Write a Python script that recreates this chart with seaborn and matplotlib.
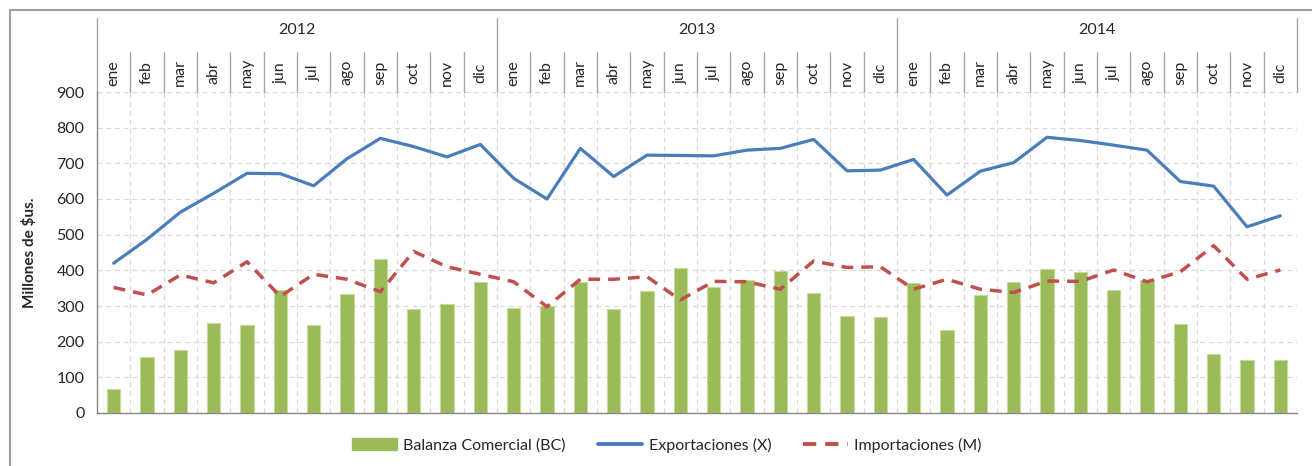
import numpy as np
import pandas as pd
import matplotlib
matplotlib.use("Agg")
import matplotlib.pyplot as plt
import seaborn as sns
from matplotlib.lines import Line2D
from matplotlib.patches import Patch

# Data (millones de $us.)
years = ["2012", "2013", "2014"]
months = ["ene", "feb", "mar", "abr", "may", "jun", "jul", "ago", "sep", "oct", "nov", "dic"]

balanza = [68, 158, 177, 252, 247, 344, 247, 334, 431, 292, 306, 367,
           294, 300, 367, 291, 341, 406, 352, 373, 399, 337, 271, 270,
           364, 232, 331, 366, 403, 394, 345, 373, 250, 165, 148, 150]
exportaciones = [420, 487, 563, 616, 672, 671, 637, 713, 770, 747, 718, 753,
                 658, 600, 742, 663, 723, 722, 721, 737, 742, 767, 679, 681,
                 711, 611, 678, 702, 773, 764, 751, 737, 649, 636, 522, 553]
importaciones = [352, 331, 387, 365, 424, 327, 389, 375, 340, 453, 410, 389,
                 368, 298, 375, 375, 382, 317, 369, 368, 347, 426, 408, 410,
                 347, 375, 347, 338, 370, 369, 401, 368, 396, 469, 375, 401]

green = "#9BBB59"
blue = "#4A7EBB"
red = "#C0504D"
grid_c = "#D9D9D9"
axis_c = "#868686"
dash = (0, (3.4, 2.3))

sns.set_style("white")
plt.rcParams["font.family"] = ["Lato", "DejaVu Sans"]

n = len(balanza)
idx = np.arange(n)
df = pd.DataFrame({"idx": idx, "bc": balanza, "x": exportaciones, "m": importaciones})

fig = plt.figure(figsize=(13.12, 4.66), dpi=100)
ax = fig.add_axes([97 / 1312, 53 / 466, 1200 / 1312, 321 / 466])

sns.barplot(data=df, x="idx", y="bc", color=green, width=0.4, saturation=1,
            edgecolor="#C6DA9E", linewidth=0.8, ax=ax, zorder=2)
sns.lineplot(x=idx, y=df["x"], color=blue, linewidth=2.3, ax=ax, zorder=3)
sns.lineplot(x=idx, y=df["m"], color=red, linewidth=2.5, linestyle=dash, ax=ax, zorder=3)

ax.set_xlim(-0.5, n - 0.5)
ax.set_ylim(0, 900)
ax.set_yticks(range(0, 901, 100))
ax.tick_params(axis="y", labelsize=11.5, length=5, color=axis_c, direction="out", pad=4)

# month boundaries: gridlines + bottom ticks
bounds = np.arange(-0.5, n, 1.0)
ax.set_xticks(bounds)
ax.set_xticklabels([])
ax.tick_params(axis="x", length=5, color=axis_c, direction="out")
for b in bounds[1:]:
    ax.axvline(b, color=grid_c, lw=0.9, ls=(0, (4, 3)), zorder=0)
for v in range(100, 901, 100):
    ax.axhline(v, color=grid_c, lw=0.9, ls=(0, (4, 3)), zorder=0)

for s in ["top", "right"]:
    ax.spines[s].set_visible(False)
for s in ["left", "bottom"]:
    ax.spines[s].set_color(axis_c)
    ax.spines[s].set_linewidth(1)

ax.set_xlabel("")
ax.set_ylabel("Millones de \\$us.", fontsize=11, fontweight="bold", labelpad=14)

# category header above the plot
trans = ax.get_xaxis_transform()
for i in range(n):
    ax.text(i, 1.06, months[i % 12], rotation=90, ha="center", va="center",
            fontsize=11.5, transform=trans, clip_on=False)
for b in bounds:
    top = 1.2305 if (b + 0.5) % 12 == 0 else 1.1246
    ax.plot([b, b], [1.0, top], color="#A6A6A6", lw=1, transform=trans, clip_on=False)
for j, y in enumerate(years):
    ax.text(j * 12 + 5.5, 1.193, y, ha="center", va="center", fontsize=11.5,
            transform=trans, clip_on=False)

# outer frame
fig.add_artist(Line2D([10 / 1312, 10 / 1312], [0, 1 - 10 / 466], color="#A0A0A0", lw=1.5))
fig.add_artist(Line2D([10 / 1312, 1], [1 - 10 / 466, 1 - 10 / 466], color="#A0A0A0", lw=1.5))

handles = [
    Patch(facecolor=green, edgecolor=green),
    Line2D([], [], color=blue, lw=2.8),
    Line2D([], [], color=red, lw=2.8, ls=dash),
]
labels = ["Balanza Comercial (BC)", "Exportaciones (X)", "Importaciones (M)"]
fig.legend(handles, labels, loc="center", bbox_to_anchor=(667 / 1312, 21 / 466), ncol=3,
           frameon=False, fontsize=11.5, handlelength=2.8, handletextpad=0.4, columnspacing=2.0)

fig.savefig("out.png", dpi=100)
